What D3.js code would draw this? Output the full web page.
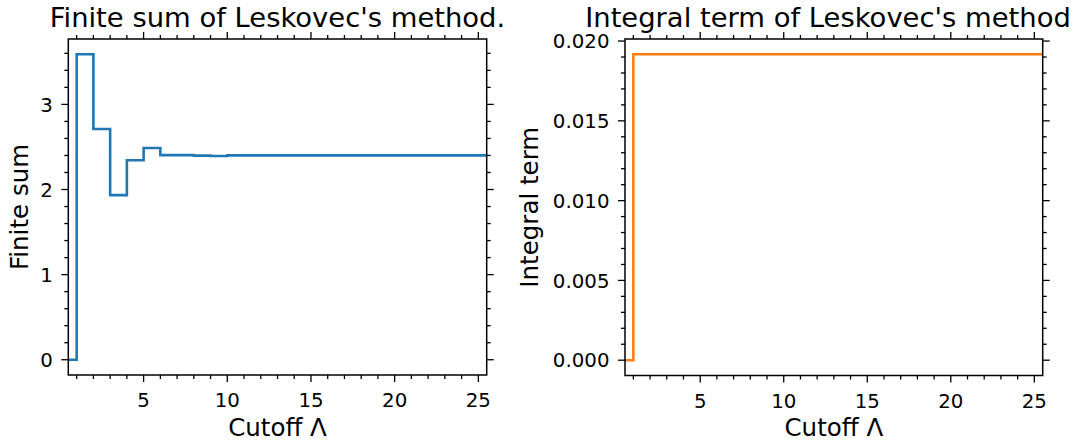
<!DOCTYPE html>
<html>
<head>
<meta charset="utf-8">
<script src="https://cdn.jsdelivr.net/npm/d3@7"></script>
<style>
html,body{margin:0;padding:0;background:#fff;}
svg{display:block;font-family:"DejaVu Sans",sans-serif;}
</style>
</head>
<body>
<svg id="chart" width="1085" height="442"></svg>
<script>
// ---- data ----
const cutoffs = [0,1,2,3,4,5,6,7,8,9,10,11,12,13,14,15,16,17,18,19,20,21,22,23,24,25,26];
const finiteSum = [0,3.589,2.711,1.934,2.344,2.488,2.404,2.404,2.398,2.393,2.401,2.401,2.401,2.401,2.401,2.401,2.401,2.401,2.401,2.401,2.401,2.401,2.401,2.401,2.401,2.401,2.401];
const integralTerm = [0,0.01917,0.01917,0.01917,0.01917,0.01917,0.01917,0.01917,0.01917,0.01917,0.01917,0.01917,0.01917,0.01917,0.01917,0.01917,0.01917,0.01917,0.01917,0.01917,0.01917,0.01917,0.01917,0.01917,0.01917,0.01917,0.01917];
const xTicks = [5,10,15,20,25];
const leftYTicks = [0,1,2,3];
const rightYTicks = [0,0.005,0.010,0.015,0.020];
const titles = ["Finite sum of Leskovec's method.", "Integral term of Leskovec's method"];
const yLabels = ["Finite sum", "Integral term"];
const xLabel = "Cutoff \u039B";

const svg = d3.select("#chart");

function panel(opts){
  const {left,right,top,bottom,values,color,yTicks,yFmt,yMinorStep,title,titleX,ylabel,ylabelX,idx} = opts;
  const x = d3.scaleLinear().domain([0.5,25.5]).range([left,right]);
  const vmax = d3.max(values), vmin = d3.min(values);
  const pad = (vmax-vmin)*0.05;
  const y = d3.scaleLinear().domain([vmin-pad, vmax+pad]).range([bottom,top]);
  const g = svg.append("g");

  const cid = "clip"+idx;
  svg.append("clipPath").attr("id",cid).append("rect")
    .attr("x",left).attr("y",top).attr("width",right-left).attr("height",bottom-top);

  const line = d3.line().x((d,i)=>x(cutoffs[i])).y(d=>y(d)).curve(d3.curveStepAfter);
  g.append("path").datum(values).attr("d",line).attr("fill","none")
    .attr("stroke",color).attr("stroke-width",2.6).attr("clip-path",`url(#${cid})`);

  const xMinor = d3.range(1,26).filter(v=>!xTicks.includes(v));
  const yDom = y.domain();
  const yMinor = d3.range(Math.ceil(yDom[0]/yMinorStep), Math.floor(yDom[1]/yMinorStep)+1)
    .map(k=>+(k*yMinorStep).toFixed(6)).filter(v=>!yTicks.some(t=>Math.abs(t-v)<1e-9));

  const tk = g.append("g").attr("stroke","#000").attr("stroke-width",1.3);
  const MJ=7, MN=4;
  xTicks.forEach(v=>{
    tk.append("line").attr("x1",x(v)).attr("x2",x(v)).attr("y1",bottom).attr("y2",bottom+MJ);
    tk.append("line").attr("x1",x(v)).attr("x2",x(v)).attr("y1",top).attr("y2",top-MJ);
  });
  xMinor.forEach(v=>{
    tk.append("line").attr("x1",x(v)).attr("x2",x(v)).attr("y1",bottom).attr("y2",bottom+MN);
    tk.append("line").attr("x1",x(v)).attr("x2",x(v)).attr("y1",top).attr("y2",top-MN);
  });
  yTicks.forEach(v=>{
    tk.append("line").attr("y1",y(v)).attr("y2",y(v)).attr("x1",left).attr("x2",left-MJ);
    tk.append("line").attr("y1",y(v)).attr("y2",y(v)).attr("x1",right).attr("x2",right+MJ);
  });
  yMinor.forEach(v=>{
    tk.append("line").attr("y1",y(v)).attr("y2",y(v)).attr("x1",left).attr("x2",left-MN);
    tk.append("line").attr("y1",y(v)).attr("y2",y(v)).attr("x1",right).attr("x2",right+MN);
  });

  g.append("rect").attr("x",left).attr("y",top).attr("width",right-left).attr("height",bottom-top)
    .attr("fill","none").attr("stroke","#000").attr("stroke-width",1.5);

  xTicks.forEach(v=>{
    g.append("text").attr("x",x(v)).attr("y",bottom+32).attr("text-anchor","middle")
      .attr("font-size",19.8).attr("fill","#000").text(v);
  });
  yTicks.forEach(v=>{
    g.append("text").attr("x",left-15.5).attr("y",y(v)).attr("dy","0.36em").attr("text-anchor","end")
      .attr("font-size",19.8).attr("fill","#000").text(yFmt(v));
  });

  g.append("text").attr("x",titleX).attr("y",27).attr("text-anchor","middle")
    .attr("font-size",27.4).attr("fill","#000").text(title);
  g.append("text").attr("x",(left+right)/2).attr("y",436).attr("text-anchor","middle")
    .attr("font-size",24.5).attr("fill","#000").text(xLabel);
  g.append("text").attr("transform",`translate(${ylabelX},${(top+bottom)/2}) rotate(-90)`)
    .attr("text-anchor","middle").attr("font-size",24.5).attr("fill","#000").text(ylabel);
}

panel({idx:0,left:68.3,right:486.7,top:39,bottom:375,values:finiteSum,color:"#1f77b4",
  yTicks:leftYTicks,yFmt:d3.format("d"),yMinorStep:0.2,title:titles[0],titleX:277.5,ylabel:yLabels[0],ylabelX:28});
panel({idx:1,left:625,right:1042.7,top:39,bottom:375.5,values:integralTerm,color:"#ff7f0e",
  yTicks:rightYTicks,yFmt:d3.format(".3f"),yMinorStep:0.001,title:titles[1],titleX:828,ylabel:yLabels[1],ylabelX:538});
</script>
</body>
</html>
